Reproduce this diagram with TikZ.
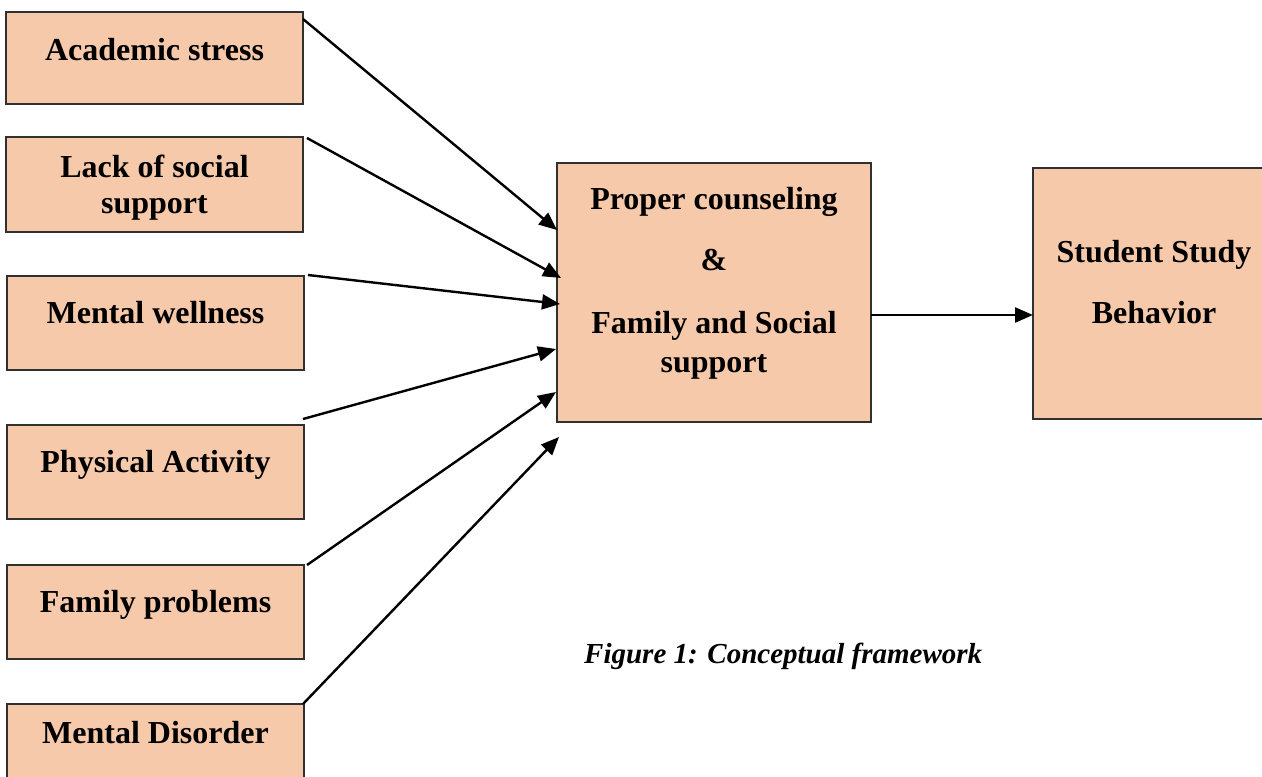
\documentclass[tikz,border=0pt]{standalone}
\usepackage{fontspec}
\setmainfont{Liberation Serif}
\usetikzlibrary{arrows.meta,calc}
\definecolor{peach}{HTML}{F6C9AA}
\definecolor{edgegray}{HTML}{303030}
\tikzset{
  box/.style={draw=edgegray,line width=1.2pt,fill=peach,inner sep=0pt,outer sep=0pt},
  lbl/.style={anchor=base,inner sep=0pt,font=\fontsize{32}{36}\selectfont\bfseries},
  figcap/.style={anchor=base west,inner sep=0pt,font=\fontsize{29}{34}\selectfont\bfseries\itshape},
  conn/.style={line width=2.4pt,-{Triangle[length=18pt,width=15pt]}}
}
\begin{document}
\begin{tikzpicture}[x=1pt,y=-1pt]
\useasboundingbox (0,0) rectangle (1262,777);
% boxes
\node[box,minimum width=297pt,minimum height=92pt,anchor=north west] (b1) at (6,12) {};
\node[box,minimum width=297pt,minimum height=95pt,anchor=north west] (b2) at (6,137) {};
\node[box,minimum width=297pt,minimum height=94pt,anchor=north west] (b3) at (7,276) {};
\node[box,minimum width=297pt,minimum height=94pt,anchor=north west] (b4) at (7,425) {};
\node[box,minimum width=297pt,minimum height=94pt,anchor=north west] (b5) at (7,565) {};
\node[box,minimum width=297pt,minimum height=94pt,anchor=north west] (b6) at (7,704) {};
\node[box,minimum width=314pt,minimum height=259pt,anchor=north west] (mid) at (557,163) {};
\node[box,minimum width=243pt,minimum height=251pt,anchor=north west] (out) at (1033,168) {};
% labels
\node[lbl] (t1) at (154.5,60) {Academic stress};
\node[lbl] (t2a) at (154.5,177) {Lack of social};
\node[lbl] (t2b) at (154.5,213) {support};
\node[lbl] (t3) at (155.5,323) {Mental wellness};
\node[lbl] (t4) at (155.5,472) {Physical Activity};
\node[lbl] (t5) at (155.5,612) {Family problems};
\node[lbl] (t6) at (155.5,743) {Mental Disorder};
\node[lbl] (m1) at (714,209) {Proper counseling};
\node[lbl] (m2) at (714,270) {\&};
\node[lbl] (m3) at (714,333) {Family and Social};
\node[lbl] (m4) at (714,372) {support};
\node[lbl] (o1) at (1154,262) {Student Study};
\node[lbl] (o2) at (1154,323) {Behavior};
\node[figcap] (caption) at (584,663) {Figure 1: Conceptual framework};
% connector ends
\coordinate (s1) at (303,19);
\coordinate (s2) at (307,138);
\coordinate (s3) at (308,275);
\coordinate (s4) at (303,419);
\coordinate (s5) at (307,565);
\coordinate (s6) at (303,704);
\coordinate (e1) at (557,230);
\coordinate (e2) at (561,278);
\coordinate (e3) at (560,304);
\coordinate (e4) at (556,349);
\coordinate (e5) at (556,392);
\coordinate (e6) at (559,437);
\coordinate (s7) at (871,315);
\coordinate (e7) at (1033,315);
\draw[conn] (s1) -- (e1);
\draw[conn] (s2) -- (e2);
\draw[conn] (s3) -- (e3);
\draw[conn] (s4) -- (e4);
\draw[conn] (s5) -- (e5);
\draw[conn] (s6) -- (e6);
\draw[conn] (s7) -- (e7);
\end{tikzpicture}
\end{document}
